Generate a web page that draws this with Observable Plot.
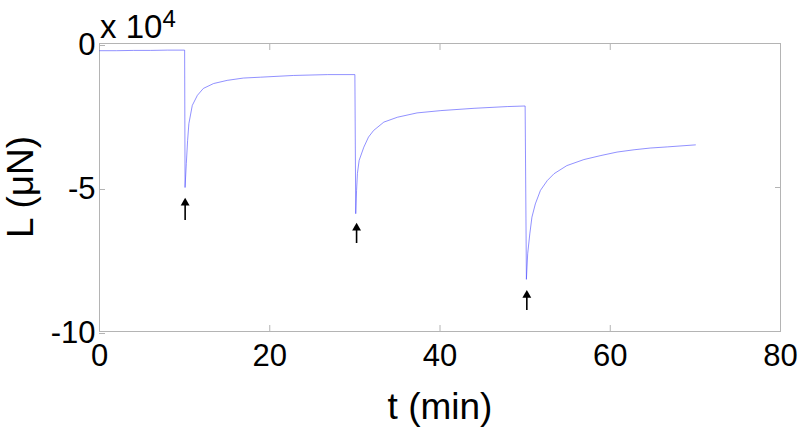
<!DOCTYPE html>
<html>
<head>
<meta charset="utf-8">
<script src="https://cdn.jsdelivr.net/npm/d3@7"></script>
<script src="https://cdn.jsdelivr.net/npm/@observablehq/plot@0.6"></script>
<style>
  html, body { margin: 0; padding: 0; background: #fff; }
  #chart svg { display: block; }
</style>
</head>
<body>
<div id="chart"></div>
<script>
// time (min)
const tValues = [
  0, 2, 4, 6, 8, 10,
  10.05, 10.2, 10.35, 10.5, 10.9, 11.5, 12.2, 13.4, 15.0, 16.9, 18.9, 22.8, 26.8, 30.0,
  30.1, 30.2, 30.3, 30.5, 31.05, 31.6, 32.2, 33.4, 35.0, 37.3, 40.1, 44.0, 47.9, 50.0,
  50.15, 50.3, 50.55, 50.8, 51.2, 51.8, 52.6, 53.4, 54.9, 56.9, 58.9, 60.8, 62.8, 64.7, 66.7, 70.0
];
// L in units of 10^4 µN
const lValues = [
  -0.25, -0.25, -0.24, -0.24, -0.23, -0.23,
  -5.0, -4.17, -3.37, -2.78, -2.15, -1.8, -1.56, -1.39, -1.28, -1.2, -1.17, -1.11, -1.08, -1.08,
  -5.91, -5.1, -4.51, -4.06, -3.6, -3.25, -3.02, -2.73, -2.56, -2.41, -2.33, -2.25, -2.19, -2.17,
  -8.19, -7.3, -6.61, -6.03, -5.57, -5.1, -4.76, -4.52, -4.24, -4.03, -3.89, -3.77, -3.69, -3.63, -3.59, -3.52
];
// arrows marking each loading step
const arrowT = [10.06, 30.2, 50.2];
const arrowTip = [-5.38, -6.25, -8.58];
const arrowTail = [-6.04, -6.84, -9.17];

const xTicks = [0, 20, 40, 60, 80];
const yTicks = [0, -5, -10];

const series = tValues.map((t, i) => ({t, L: lValues[i]}));
const arrows = arrowT.map((t, i) => ({t, tip: arrowTip[i], tail: arrowTail[i]}));

const FONT = "Liberation Sans, Arial, Helvetica, sans-serif";
const GREY = "#b4b4b4";
const fmt = d => String(d);

const svg = Plot.plot({
  width: 800,
  height: 429,
  marginLeft: 99,
  marginRight: 20,
  marginTop: 43,
  marginBottom: 98,
  style: {fontFamily: FONT, background: "#fff", color: "#000"},
  x: {domain: [0, 80]},
  y: {domain: [-10, 0]},
  marks: [
    Plot.frame({stroke: GREY, strokeWidth: 1}),
    Plot.axisX({anchor: "bottom", ticks: xTicks, tickFormat: fmt, tickSize: -6, tickPadding: 18, stroke: GREY,
      fontSize: 31, label: null, fill: "#000"}),
    Plot.axisX({anchor: "top", ticks: xTicks, tickSize: -6, tickFormat: () => "", stroke: GREY, label: null}),
    Plot.axisY({anchor: "left", ticks: yTicks, tickFormat: fmt, tickSize: -6, tickPadding: 10, stroke: GREY,
      fontSize: 31, label: null, fill: "#000", dy: 2}),
    Plot.axisY({anchor: "right", ticks: yTicks, tickSize: -6, tickFormat: () => "", stroke: GREY, label: null}),
    Plot.line(series, {x: "t", y: "L", stroke: "#4646ff", strokeWidth: 0.6}),
    Plot.ruleX(arrows, {x: "t", y1: "tail", y2: "tip", stroke: "#000", strokeWidth: 1.6, dy: 3}),
    Plot.dot(arrows, {x: "t", y: "tip", symbol: "triangle", r: 3.3, fill: "#000", stroke: "none", dy: 4.5})
  ]
});

const s = d3.select(svg);
// x-axis label
s.append("text")
  .attr("x", 440).attr("y", 419)
  .attr("text-anchor", "middle")
  .attr("font-family", FONT).attr("font-size", 37).attr("fill", "#000")
  .text("t (min)");
// y-axis label
s.append("text")
  .attr("transform", "translate(33,187) rotate(-90)")
  .attr("text-anchor", "middle")
  .attr("font-family", FONT).attr("font-size", 37).attr("fill", "#000")
  .text("L (μN)");
// exponent annotation
const ex = s.append("text")
  .attr("x", 100).attr("y", 38)
  .attr("text-anchor", "start")
  .attr("font-family", FONT).attr("font-size", 33).attr("fill", "#000");
ex.append("tspan").text("x 10");
ex.append("tspan").attr("font-size", 24).attr("dy", -11).text("4");

document.getElementById("chart").appendChild(svg);
</script>
</body>
</html>
